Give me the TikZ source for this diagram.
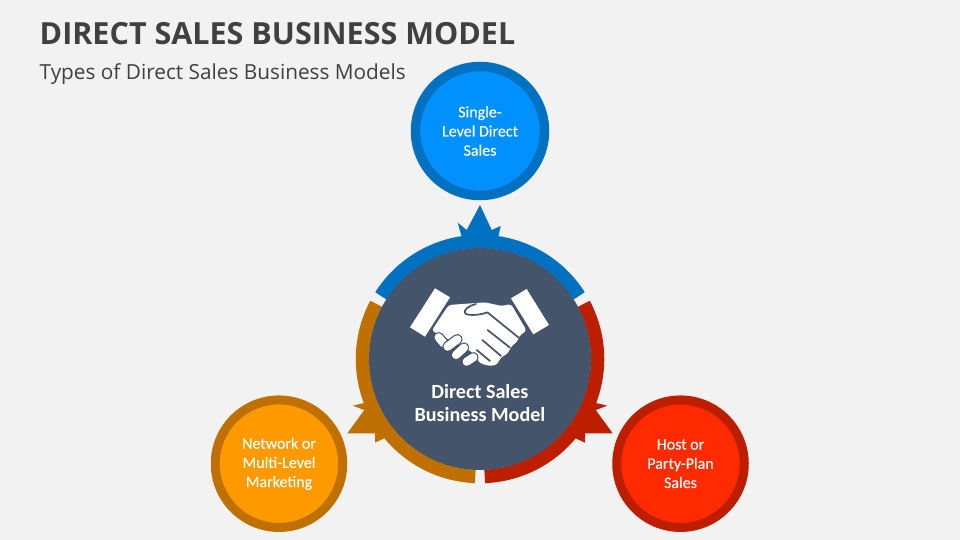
\documentclass[tikz,border=0pt]{standalone}
\usepackage{fontspec}
\setmainfont{Carlito}
\newfontfamily\headfont{Open Sans}
\newfontfamily\satfont[FakeBold=0.25]{Carlito}
\definecolor{bgc}{HTML}{F2F2F2}
\definecolor{ttl}{HTML}{404040}
\definecolor{slate}{HTML}{44546A}
\definecolor{blueR}{HTML}{0070C0}
\definecolor{blueI}{HTML}{0091FF}
\definecolor{orangeR}{HTML}{BF7000}
\definecolor{orangeI}{HTML}{FF9900}
\definecolor{redR}{HTML}{BE1E00}
\definecolor{redI}{HTML}{FF2A00}
\tikzset{
  sat/.style={circle,minimum size=129pt,inner sep=0pt,line width=9.5pt,text=white,align=center,
    font=\satfont\fontsize{16}{19.2}\selectfont},
  satlow/.style={sat,minimum size=127.5pt,line width=9pt},
  arcband/.style={line width=13.5pt},
  hwhite/.style={fill=white,draw=none},
  hline/.style={draw=slate,line width=1.7pt,line cap=round,line join=round},
  fingerw/.style={line cap=round,draw=white,line width=8.2pt},
  fingerb/.style={line cap=round,draw=slate,line width=10.6pt}
}
\begin{document}
\begin{tikzpicture}[x=1pt,y=-1pt]
\useasboundingbox (0,0) rectangle (960,540);
\fill[bgc] (0,0) rectangle (960,540);
\node[anchor=west,inner sep=0pt,text=ttl,font=\headfont\bfseries\fontsize{30.5}{36}\selectfont] (title) at (39.5,33.5) {DIRECT SALES BUSINESS MODEL};
\node[anchor=west,inner sep=0pt,text=ttl,font=\headfont\fontsize{20.78}{24}\selectfont] (subtitle) at (39.5,74.5) {Types of Direct Sales Business Models};
% ring arcs (y axis flipped: angles measured clockwise on the page)
\coordinate (ctr) at (480,359);
\draw[arcband,blueR] (ctr) ++(-147.5:117.5) arc[start angle=-147.5,end angle=-32.5,radius=117.5];
\draw[arcband,redR] (ctr) ++(-28:117.5) arc[start angle=-28,end angle=87.7,radius=117.5];
\draw[arcband,orangeR] (ctr) ++(92.3:117.5) arc[start angle=92.3,end angle=208,radius=117.5];
% arrowheads
\fill[blueR] (480,205) -- (491.7,230) -- (500.7,226) -- (498,238) -- (462,238) -- (457.7,222.7) -- (466.7,230) -- cycle;
\fill[orangeR] (347.3,433.3) -- (364.3,410) -- (352.7,405.7) -- (368,402) -- (385,438) -- (375,442.7) -- (375,433.3) -- cycle;
\fill[redR] (612.7,433.3) -- (595.7,410) -- (607.3,405.7) -- (592,402) -- (575,438) -- (585,442.7) -- (585,433.3) -- cycle;
% nodes
\node[sat,draw=blueR,fill=blueI] (single) at (480,131) {Single-\\Level Direct\\Sales};
\node[satlow,draw=orangeR,fill=orangeI] (network) at (279,463.7) {Network or\\Multi-Level\\Marketing};
\node[satlow,draw=redR,fill=redI] (host) at (680.5,463.7) {Host or\\Party-Plan\\Sales};
\node[circle,fill=slate,minimum size=222pt,inner sep=0pt] (core) at (ctr) {};
\node[text=white,align=center,font=\bfseries\fontsize{20.1}{23.5}\selectfont] (corelabel) at (480,403) {Direct Sales\\Business Model};
% handshake icon
\begin{scope}[shift={(400,280)},x=0.3333pt,y=-0.3333pt]
  \fill[hwhite] (105,25) -- (150,52) -- (75,170) -- (30,142) -- cycle;
  \fill[hwhite] (333,55) -- (380,27) -- (447,135) -- (400,163) -- cycle;
  \fill[hwhite,rounded corners=3pt] (146,75) -- (255,67) -- (305,78) -- (333,72) -- (380,152) -- (358,167) -- (352,185) -- (335,198) -- (322,222) -- (303,232) -- (290,255) -- (268,258) -- (240,250) -- (215,215) -- (95,152) -- cycle;
  \draw[hline] (228,72) .. controls (205,78) and (190,90) .. (195,99) .. controls (200,108) and (240,106) .. (262,97) -- (355,172);
  \draw[hline] (263,150) -- (330,203);
  \draw[hline] (247,180) -- (303,228);
  \draw[hline] (230,210) -- (270,243);
  \foreach \a/\b/\c/\d in {116/172/131/190, 143/200/172/178, 168/225/192/203, 200/245/220/232}{
    \draw[fingerb] (\a,\b) -- (\c,\d);
    \draw[fingerw] (\a,\b) -- (\c,\d);
  }
\end{scope}
\end{tikzpicture}
\end{document}
